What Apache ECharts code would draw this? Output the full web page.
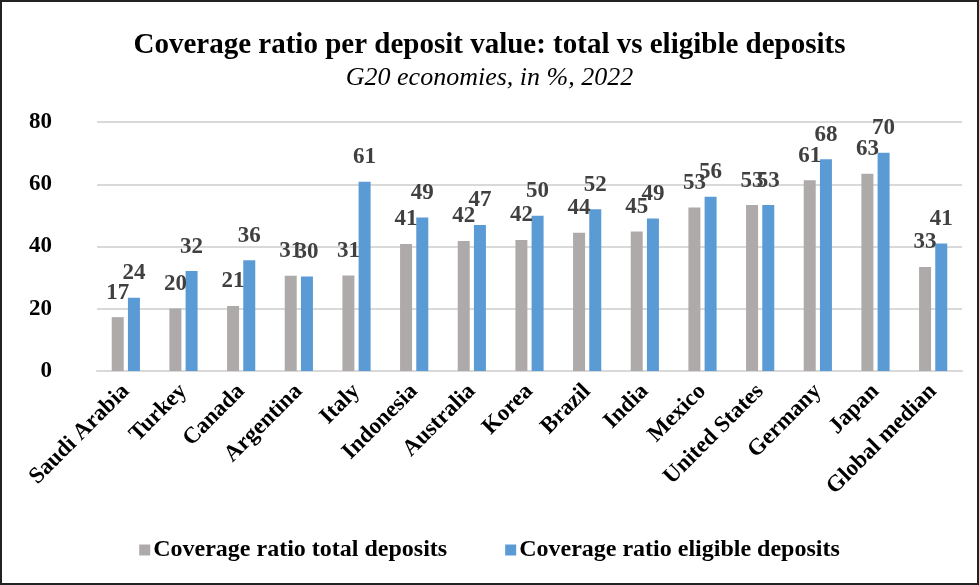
<!DOCTYPE html>
<html>
<head>
<meta charset="utf-8">
<script src="https://cdn.jsdelivr.net/npm/echarts@6/dist/echarts.min.js"></script>
<style>
    html, body { margin: 0; padding: 0; background: #fff; }
    #chart {
        width: 975px;
        height: 581px;
        border: 2px solid #222;
    }
</style>
</head>
<body>
<div id="chart"></div>
<script>
// Chart data
const categories = ['Saudi Arabia', 'Turkey', 'Canada', 'Argentina', 'Italy', 'Indonesia', 'Australia',
    'Korea', 'Brazil', 'India', 'Mexico', 'United States', 'Germany', 'Japan', 'Global median'];
const totalDeposits = [17.3, 20.1, 20.9, 30.6, 30.7, 40.8, 41.8, 42.1, 44.4, 44.8, 52.5, 53.3, 61.3, 63.4, 33.4];
const eligibleDeposits = [23.5, 32.1, 35.6, 30.4, 60.8, 49.3, 46.9, 49.9, 52.0, 49.0, 56.0, 53.3, 68.0, 70.1, 41.0];
const yTicks = [0, 20, 40, 60, 80];

const serif = '"Liberation Serif", "Times New Roman", serif';

const myChart = echarts.init(document.getElementById('chart'));

const labelStyle = {
    show: true,
    position: 'top',
    distance: 13,
    fontFamily: serif,
    fontWeight: 'bold',
    fontSize: 23,
    color: '#404040',
    formatter: p => Math.round(p.value)
};

const option = {
    animation: false,
    title: {
        text: 'Coverage ratio per deposit value: total vs eligible deposits',
        subtext: 'G20 economies, in %, 2022',
        left: 'center',
        top: 24,
        itemGap: 5,
        textStyle: {
            fontFamily: serif,
            fontWeight: 'bold',
            fontSize: 29,
            color: '#000'
        },
        subtextStyle: {
            fontFamily: serif,
            fontStyle: 'italic',
            fontSize: 26,
            color: '#000'
        }
    },
    legend: {
        bottom: 16,
        left: 'center',
        itemWidth: 11,
        itemHeight: 11,
        itemGap: 58,
        icon: 'rect',
        textStyle: {
            fontFamily: serif,
            fontWeight: 'bold',
            fontSize: 24,
            color: '#000',
            padding: [0, 0, 0, -2]
        }
    },
    grid: {
        left: 95,
        right: 15,
        top: 120,
        bottom: 212
    },
    xAxis: {
        type: 'category',
        data: categories,
        axisTick: { show: false },
        axisLine: { lineStyle: { color: '#d9d9d9', width: 2 } },
        axisLabel: {
            interval: 0,
            rotate: 45,
            margin: 17,
            fontFamily: serif,
            fontWeight: 'bold',
            fontSize: 23,
            color: '#000'
        }
    },
    yAxis: {
        type: 'value',
        min: yTicks[0],
        max: yTicks[yTicks.length - 1],
        interval: 20,
        axisLine: { show: false },
        axisTick: { show: false },
        splitLine: { lineStyle: { color: '#d9d9d9', width: 2 } },
        axisLabel: {
            margin: 45,
            fontFamily: serif,
            fontWeight: 'bold',
            fontSize: 23,
            color: '#000'
        }
    },
    series: [{
        name: 'Coverage ratio total deposits',
        type: 'bar',
        data: totalDeposits,
        barWidth: 12,
        barGap: '35%',
        itemStyle: { color: '#aeaaaa' },
        label: labelStyle
    }, {
        name: 'Coverage ratio eligible deposits',
        type: 'bar',
        data: eligibleDeposits,
        barWidth: 12,
        itemStyle: { color: '#5b9bd5' },
        label: labelStyle
    }]
};

myChart.setOption(option);
</script>
</body>
</html>
